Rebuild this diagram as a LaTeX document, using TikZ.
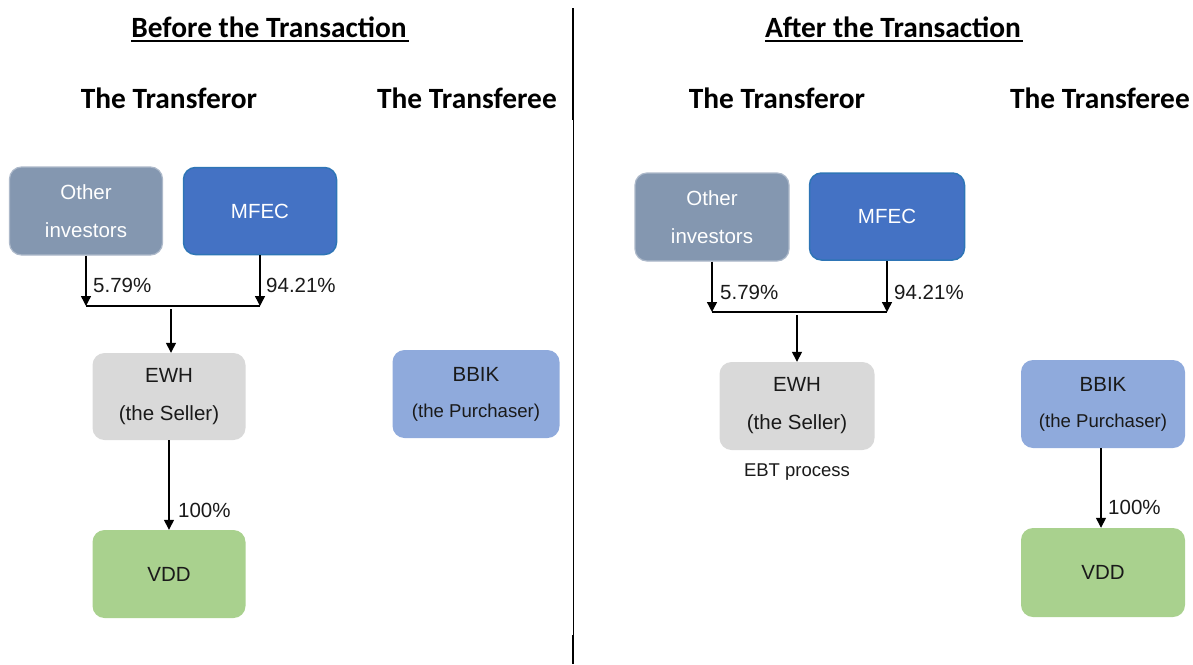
\documentclass[tikz,border=0pt]{standalone}
\usepackage{fontspec}
\setmainfont{Liberation Sans}
\newfontfamily\calfont{Carlito}
\usetikzlibrary{arrows.meta}
\definecolor{otherc}{HTML}{8497B0}
\definecolor{otherb}{HTML}{ADB9CA}
\definecolor{mfecc}{HTML}{4472C4}
\definecolor{mfecb}{HTML}{2E75B6}
\definecolor{ewhc}{HTML}{D9D9D9}
\definecolor{vddc}{HTML}{A9D18E}
\definecolor{bbikc}{HTML}{8FAADC}
\definecolor{txt}{HTML}{1A1A1A}
\begin{document}
\begin{tikzpicture}[x=1pt,y=-1pt,
  box/.style={rounded corners=12pt, inner sep=0pt, align=center,
    text=txt, font=\fontsize{20.5}{38}\selectfont},
  otherbox/.style={box, fill=otherc, draw=otherb, line width=1.2pt, text=white},
  mfecbox/.style={box, fill=mfecc, draw=mfecb, line width=1.5pt, text=white},
  ewhbox/.style={box, fill=ewhc},
  vddbox/.style={box, fill=vddc},
  bbikbox/.style={box, fill=bbikc},
  pct/.style={anchor=west, inner sep=0pt, font=\fontsize{20.5}{24}\selectfont, text=txt},
  arr/.style={-{Triangle[length=10pt,width=10pt]}, line width=1.4pt},
  conn/.style={line width=1.4pt},
  headtitle/.style={anchor=base, inner sep=0pt, font=\calfont\bfseries\fontsize{29.4}{32}\selectfont},
  subtitle/.style={anchor=base, inner sep=0pt, font=\calfont\bfseries\fontsize{29.4}{32}\selectfont}
]
\useasboundingbox (0,0) rectangle (1193,664);

% divider
\draw[line width=2pt] (573,8) -- (573,120);
\draw[line width=1pt] (573,120) -- (573,635);
\draw[line width=2pt] (573,635) -- (573,664);

% titles
\node[headtitle] (tb) at (269,37) {Before the Transaction};
\draw[line width=2pt] (tb.base west) ++(0,4) -- ++(278,0);
\node[headtitle] (ta) at (893,37) {After the Transaction};
\draw[line width=2pt] (ta.base west) ++(0,4) -- ++(258,0);

\node[subtitle] (tor1) at (169,108) {The Transferor};
\node[subtitle] (tee1) at (467,108) {The Transferee};
\node[subtitle] (tor2) at (777,108) {The Transferor};
\node[subtitle] (tee2) at (1100,108) {The Transferee};

% ---- Before ----
\node[otherbox, minimum width=153pt, minimum height=88pt] (other1) at (86,211) {Other\\investors};
\node[mfecbox, minimum width=153pt, minimum height=87pt] (mfec1) at (260,211) {MFEC};
\node[ewhbox, minimum width=153pt, minimum height=87pt] (ewh1) at (169,396.5) {EWH\\(the Seller)};
\node[vddbox, minimum width=153pt, minimum height=88pt] (vdd1) at (169,574) {VDD};
\node[bbikbox, minimum width=167pt, minimum height=88pt, font=\fontsize{20.5}{36}\selectfont] (bbik1) at (476,394) {BBIK\\{\fontsize{18.6}{20}\selectfont (the Purchaser)}};

\coordinate (jl1) at (other1.south |- 0,306);
\coordinate (jr1) at (mfec1.south |- 0,306);
\coordinate (jm1) at (171,309);
\draw[arr] (other1.south) -- (jl1);
\draw[arr] (mfec1.south) -- (jr1);
\draw[conn] (jl1) -- (jr1);
\draw[arr] (jm1) -- (jm1 |- ewh1.north);
\draw[arr] (ewh1.south) -- (vdd1.north);
\node[pct] (p11) at (93,285) {5.79\%};
\node[pct] (p12) at (266,285) {94.21\%};
\node[pct] (p13) at (178,510) {100\%};

% ---- After ----
\node[otherbox, minimum width=154pt, minimum height=88pt] (other2) at (712,217) {Other\\investors};
\node[mfecbox, minimum width=155pt, minimum height=87pt] (mfec2) at (887,216.5) {MFEC};
\node[ewhbox, minimum width=155pt, minimum height=88pt] (ewh2) at (797,406) {EWH\\(the Seller)};
\node[inner sep=0pt, font=\fontsize{18.5}{20}\selectfont, text=txt] (ebt) at (797,472) {EBT process};
\node[bbikbox, minimum width=164pt, minimum height=88pt, font=\fontsize{20.5}{36}\selectfont] (bbik2) at (1103,404) {BBIK\\{\fontsize{18.6}{20}\selectfont (the Purchaser)}};
\node[vddbox, minimum width=164pt, minimum height=89pt] (vdd2) at (1103,572.5) {VDD};

\coordinate (jl2) at (other2.south |- 0,312);
\coordinate (jr2) at (mfec2.south |- 0,312);
\coordinate (jm2) at (797,315);
\draw[arr] (other2.south) -- (jl2);
\draw[arr] (mfec2.south) -- (jr2);
\draw[conn] (jl2) -- (jr2);
\draw[arr] (jm2) -- (jm2 |- ewh2.north);
\draw[arr] (bbik2.south -| 1101,0) -- (vdd2.north -| 1101,0);
\node[pct] (p21) at (720,292) {5.79\%};
\node[pct] (p22) at (894,292) {94.21\%};
\node[pct] (p23) at (1108,507) {100\%};
\end{tikzpicture}
\end{document}
